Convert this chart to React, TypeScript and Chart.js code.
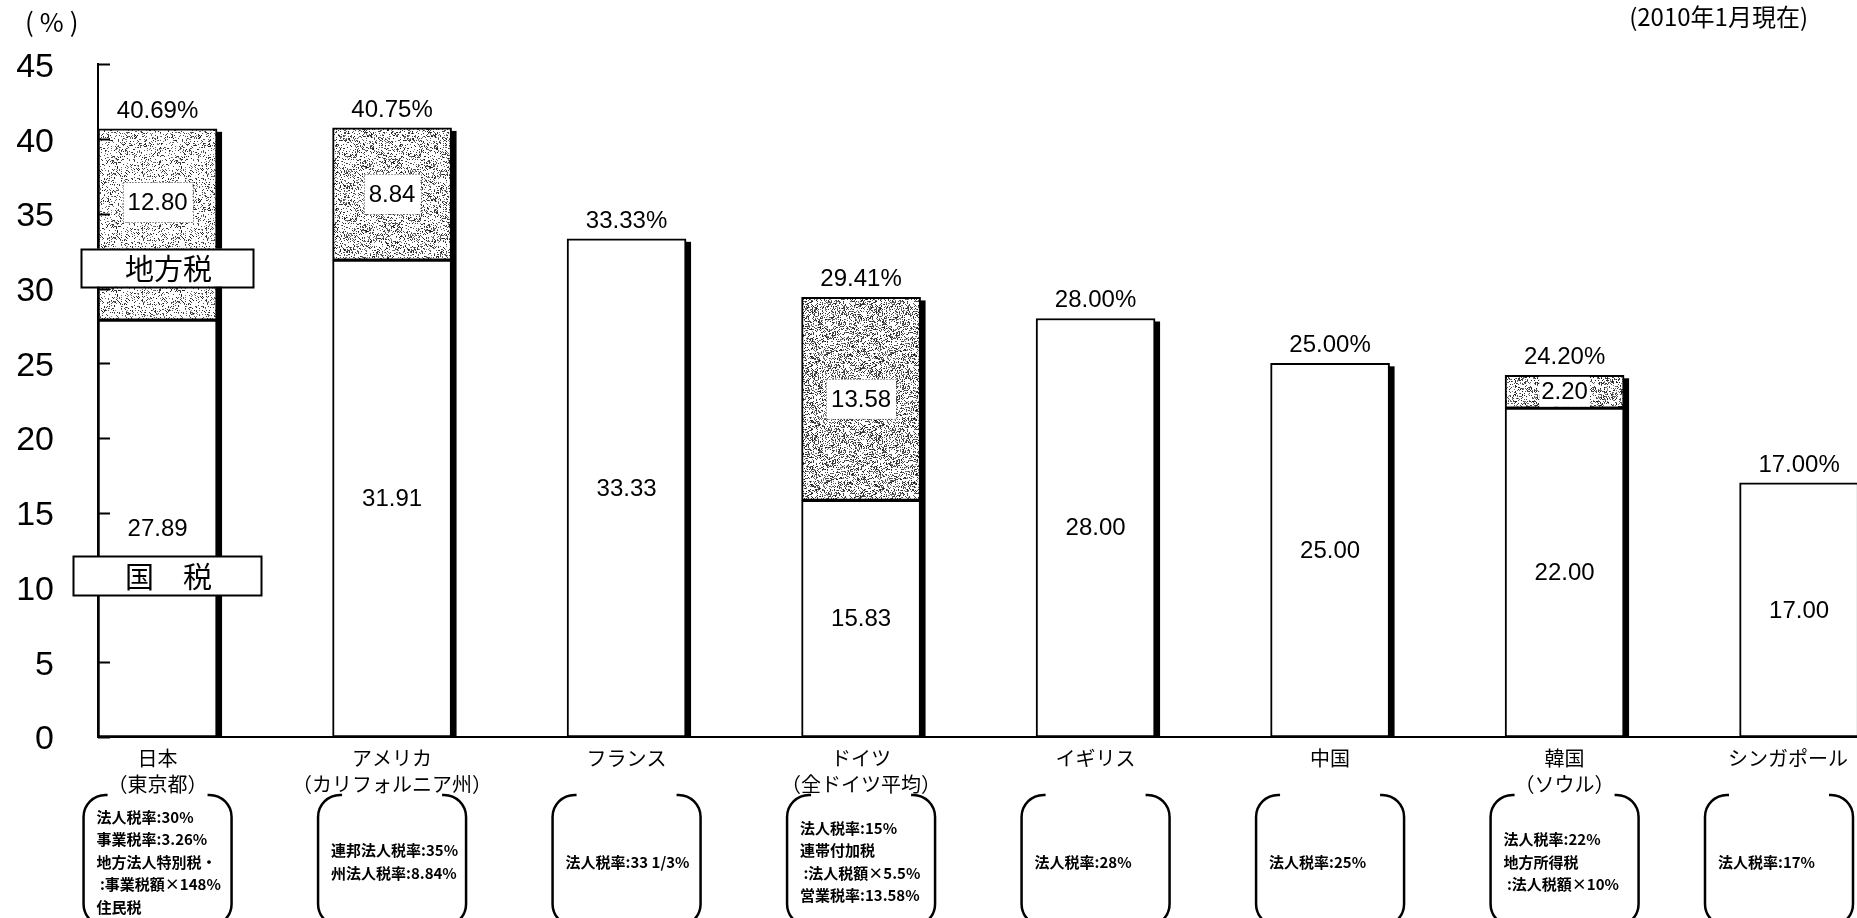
import { useEffect, useRef } from 'react';
import { Chart, registerables } from 'chart.js';

Chart.register(...registerables);

// Corporate tax rates by country (national + local), %
const countries = ['日本', 'アメリカ', 'フランス', 'ドイツ', 'イギリス', '中国', '韓国', 'シンガポール'];
const regions = ['（東京都）', '（カリフォルニア州）', '', '（全ドイツ平均）', '', '', '（ソウル）', ''];
const nationalTax = [27.89, 31.91, 33.33, 15.83, 28.0, 25.0, 22.0, 17.0];
const localTax = [12.8, 8.84, 0, 13.58, 0, 0, 2.2, 0];
const seriesNames = ['国　税', '地方税'];
const taxNotes = [
  ['法人税率:30%', '事業税率:3.26%', '地方法人特別税・', ' :事業税額×148%', '住民税'],
  ['連邦法人税率:35%', '州法人税率:8.84%'],
  ['法人税率:33 1/3%'],
  ['法人税率:15%', '連帯付加税', ' :法人税額×5.5%', '営業税率:13.58%'],
  ['法人税率:28%'],
  ['法人税率:25%'],
  ['法人税率:22%', '地方所得税', ' :法人税額×10%'],
  ['法人税率:17%'],
];
const yMin = 0;
const yMax = 45;
const yStep = 5;
const unitLabel = '(%)';
const asOfLabel = '(2010年1月現在)';

const NUM_FONT = '"Liberation Sans", Arial, sans-serif';
const JP_FONT = '"Noto Sans CJK JP", "Noto Sans", sans-serif';
const BAR_WIDTH = 119;

// deterministic integer hash -> [0,1)
function hash(x: number, y: number, seed: number): number {
  let h = (Math.imul(x, 374761393) + Math.imul(y, 668265263) + Math.imul(seed, 982451653)) | 0;
  h = Math.imul(h ^ (h >>> 13), 1274126177);
  h ^= h >>> 16;
  return (h >>> 0) / 4294967296;
}

// grainy dot-screen fill used for the local-tax segments
function makeStipple(density: number, seed: number): CanvasPattern | string {
  const size = 64;
  const c = document.createElement('canvas');
  c.width = size;
  c.height = size;
  const g = c.getContext('2d');
  if (!g) return '#ccc';
  const img = g.createImageData(size, size);
  for (let y = 0; y < size; y++) {
    for (let x = 0; x < size; x++) {
      const m =
        0.5 +
        0.5 * Math.sin(((x + seed * 7) * Math.PI * 2) / 32) * Math.cos(((y - seed * 5) * Math.PI * 2) / 16);
      const d = density * (0.6 + 0.8 * m);
      const on = hash(x, y, seed) < d;
      const v = on ? Math.round(20 + 110 * hash(y, x, seed + 11)) : 255;
      const k = (y * size + x) * 4;
      img.data[k] = v;
      img.data[k + 1] = v;
      img.data[k + 2] = v;
      img.data[k + 3] = 255;
    }
  }
  g.putImageData(img, 0, 0);
  return g.createPattern(c, 'repeat') || '#ccc';
}

const decorPlugin = {
  id: 'taxDecor',
  afterDatasetsDraw(chart: any) {
    const ctx: CanvasRenderingContext2D = chart.ctx;
    const ys = chart.scales.y;
    const area = chart.chartArea;
    const natMeta = chart.getDatasetMeta(0);
    ctx.save();

    // drop shadow on the right side of each bar
    ctx.fillStyle = '#000';
    countries.forEach((_, i) => {
      const bar = natMeta.data[i];
      if (!bar) return;
      const { x, width, base } = bar.getProps(['x', 'width', 'base'], true);
      const top = ys.getPixelForValue(nationalTax[i] + localTax[i]);
      const right = x + width / 2;
      ctx.fillRect(right - 1, top + 3, 6, base - top - 3);
    });

    // inward tick marks on the value axis
    ctx.strokeStyle = '#000';
    ctx.lineWidth = 2;
    ys.ticks.forEach((t: any) => {
      const py = Math.round(ys.getPixelForValue(t.value)) + 0.5;
      ctx.beginPath();
      ctx.moveTo(area.left, py);
      ctx.lineTo(area.left + 12, py);
      ctx.stroke();
    });

    // segment values and totals
    ctx.font = `24px ${NUM_FONT}`;
    ctx.textAlign = 'center';
    countries.forEach((_, i) => {
      const bar = natMeta.data[i];
      if (!bar) return;
      const x = bar.x;
      const base = ys.getPixelForValue(0);
      const natTop = ys.getPixelForValue(nationalTax[i]);
      ctx.textBaseline = 'middle';
      ctx.fillStyle = '#000';
      ctx.fillText(nationalTax[i].toFixed(2), x, (base + natTop) / 2 + 1);

      const total = nationalTax[i] + localTax[i];
      const top = ys.getPixelForValue(total);
      if (localTax[i] > 0) {
        const txt = localTax[i].toFixed(2);
        const segH = natTop - top;
        const cy = (natTop + top) / 2 - (i === 0 ? 22 : 0);
        const w = ctx.measureText(txt).width + (segH > 44 ? 10 : 4);
        const h = Math.min(40, segH - 3);
        ctx.fillStyle = '#fff';
        ctx.fillRect(x - w / 2, cy - h / 2, w, h);
        if (segH > 44) {
          ctx.save();
          ctx.setLineDash([1, 2]);
          ctx.strokeStyle = '#444';
          ctx.lineWidth = 1;
          ctx.strokeRect(Math.round(x - w / 2) + 0.5, Math.round(cy - h / 2) + 0.5, Math.round(w), Math.round(h));
          ctx.restore();
        }
        ctx.fillStyle = '#000';
        ctx.fillText(txt, x, cy + 1);
      }

      ctx.textBaseline = 'alphabetic';
      ctx.fillStyle = '#000';
      ctx.fillText(`${total.toFixed(2)}%`, x, top - 11);
    });

    // series name boxes beside the first bar
    const firstX = natMeta.data[0] ? natMeta.data[0].x : area.left + 60;
    const nameBoxes = [
      { text: seriesNames[1], left: firstX - 77, width: 172, value: 31.4, h: 38 },
      { text: seriesNames[0], left: firstX - 85, width: 188, value: 10.8, h: 39 },
    ];
    nameBoxes.forEach((b) => {
      const cy = ys.getPixelForValue(b.value);
      ctx.fillStyle = '#fff';
      ctx.fillRect(b.left, cy - b.h / 2, b.width, b.h);
      ctx.strokeStyle = '#000';
      ctx.lineWidth = 2;
      ctx.strokeRect(Math.round(b.left) + 0.5, Math.round(cy - b.h / 2) + 0.5, b.width, b.h);
      ctx.fillStyle = '#000';
      ctx.font = `29px ${JP_FONT}`;
      ctx.textAlign = 'center';
      ctx.textBaseline = 'middle';
      ctx.fillText(b.text, b.left + b.width / 2 + 2, cy + 1);
    });

    ctx.restore();
  },
  afterDraw(chart: any) {
    const ctx: CanvasRenderingContext2D = chart.ctx;
    const natMeta = chart.getDatasetMeta(0);
    const W = chart.width;
    const H = chart.height;
    ctx.save();
    ctx.fillStyle = '#000';
    ctx.strokeStyle = '#000';

    // unit and date captions
    ctx.font = `26px ${JP_FONT}`;
    ctx.textAlign = 'left';
    ctx.textBaseline = 'middle';
    (ctx as any).letterSpacing = '6px';
    ctx.fillText(unitLabel, 25, 22);
    (ctx as any).letterSpacing = '0px';
    ctx.font = `24px ${JP_FONT}`;
    ctx.textAlign = 'right';
    ctx.fillText(asOfLabel, 1808, 17);

    countries.forEach((name, i) => {
      const bar = natMeta.data[i];
      if (!bar) return;
      const x = bar.x;

      // category name and region
      ctx.font = `20px ${JP_FONT}`;
      ctx.textAlign = 'center';
      ctx.textBaseline = 'middle';
      const w1 = ctx.measureText(name).width;
      ctx.fillText(name, Math.min(x, W - 9 - w1 / 2), 758);
      if (regions[i]) {
        const w2 = ctx.measureText(regions[i]).width;
        ctx.fillText(regions[i], Math.min(x, W - 9 - w2 / 2), 784);
      }

      // bracketed note
      const boxW = 148;
      const left = Math.min(x - boxW / 2, W - 4 - boxW);
      const right = left + boxW;
      const top = 795;
      const bottom = H + 8;
      const r = 22;
      ctx.lineWidth = 2.5;
      ctx.beginPath();
      ctx.moveTo(left + r + 2, top);
      ctx.arcTo(left, top, left, top + r, r);
      ctx.lineTo(left, bottom - r);
      ctx.arcTo(left, bottom, left + r + 2, bottom, r);
      ctx.stroke();
      ctx.beginPath();
      ctx.moveTo(right - r - 2, top);
      ctx.arcTo(right, top, right, top + r, r);
      ctx.lineTo(right, bottom - r);
      ctx.arcTo(right, bottom, right - r - 2, bottom, r);
      ctx.stroke();

      const lines = taxNotes[i];
      ctx.font = `bold 15px ${JP_FONT}`;
      ctx.textAlign = 'left';
      const lh = 22.5;
      lines.forEach((ln, k) => {
        const cy = 862 + (k - (lines.length - 1) / 2) * lh;
        ctx.fillText(ln, left + 13, cy);
      });
    });
    ctx.restore();
  },
};

export default function App() {
  const canvasRef = useRef<HTMLCanvasElement | null>(null);

  useEffect(() => {
    document.body.style.margin = '0';
    document.body.style.overflow = 'hidden';
    const canvas = canvasRef.current;
    if (!canvas) return;

    const densities = [0.2, 0.26, 0, 0.34, 0, 0, 0.3, 0];
    const stipples = densities.map((d, i) => (d > 0 ? makeStipple(d, i + 3) : '#fff'));

    const chart = new Chart(canvas, {
      type: 'bar',
      data: {
        datasets: [
          {
            label: seriesNames[0],
            data: nationalTax.map((v, i) => ({ x: i, y: v })),
            backgroundColor: '#fff',
            borderColor: '#000',
            borderWidth: 2,
            borderSkipped: false,
            stack: 'tax',
            barThickness: BAR_WIDTH,
          },
          {
            label: seriesNames[1],
            data: localTax.map((v, i) => ({ x: i, y: v > 0 ? v : null })),
            backgroundColor: stipples as any,
            borderColor: '#000',
            borderWidth: 2,
            borderSkipped: false,
            stack: 'tax',
            barThickness: BAR_WIDTH,
          },
        ],
      } as any,
      options: {
        animation: false,
        responsive: true,
        maintainAspectRatio: false,
        layout: { padding: { top: 62, left: 0, right: 0, bottom: 0 } },
        plugins: {
          legend: { display: false },
          tooltip: { enabled: false },
        },
        scales: {
          x: {
            type: 'linear',
            min: -0.254,
            max: 7.247,
            stacked: true,
            offset: false,
            grid: { display: false, drawTicks: false, offset: false },
            ticks: { display: false, stepSize: 1 },
            border: { display: true, color: '#000', width: 2 },
            afterFit: (s: any) => {
              s.height = 181;
            },
          },
          y: {
            type: 'linear',
            stacked: true,
            min: yMin,
            max: yMax,
            ticks: {
              stepSize: yStep,
              padding: 44,
              labelOffset: 3,
              color: '#000',
              font: { family: NUM_FONT, size: 34 },
            },
            grid: { display: false, drawTicks: false },
            border: { display: true, color: '#000', width: 2 },
            afterFit: (s: any) => {
              s.width = 98;
            },
          },
        },
      } as any,
      plugins: [decorPlugin],
    });

    return () => chart.destroy();
  }, []);

  return (
    <div style={{ position: 'relative', width: '1857px', height: '918px', background: '#fff' }}>
      <canvas ref={canvasRef} />
    </div>
  );
}
